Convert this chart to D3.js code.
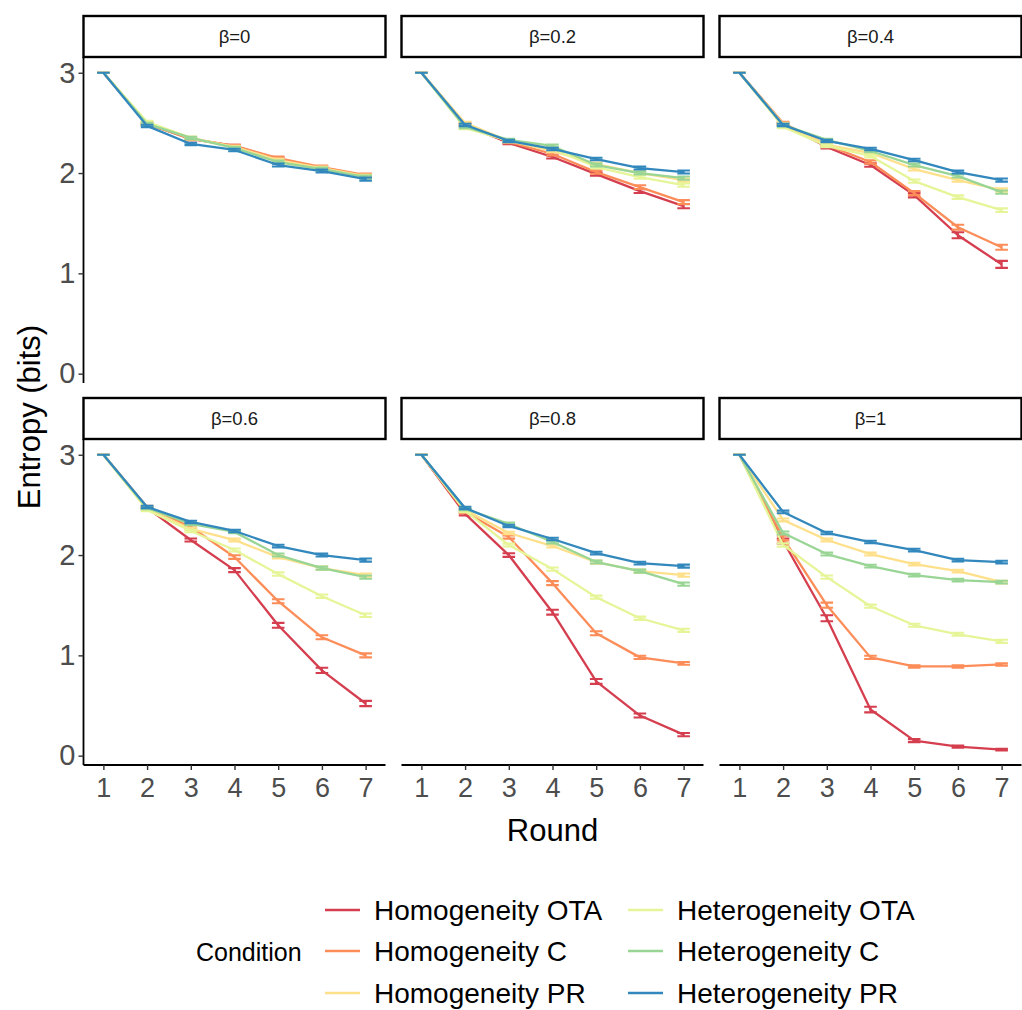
<!DOCTYPE html>
<html>
<head>
<meta charset="utf-8">
<script src="https://cdn.jsdelivr.net/npm/d3@7"></script>
<style>
  body { margin: 0; background: #fff; }
  svg { display: block; font-family: "Liberation Sans", Arial, sans-serif; }
</style>
</head>
<body>
<svg id="chart" width="1022" height="1010"></svg>
<script>
// Rounds on the x axis and the facet labels
const rounds = [1, 2, 3, 4, 5, 6, 7];
const betaLabels = ["β=0", "β=0.2", "β=0.4", "β=0.6", "β=0.8", "β=1"];
const conditions = ["Homogeneity OTA", "Homogeneity C", "Homogeneity PR",
                    "Heterogeneity OTA", "Heterogeneity C", "Heterogeneity PR"];
const conditionColors = ["#D53E4F", "#FC8D59", "#FEE08B", "#E6F598", "#99D594", "#3288BD"];
const yTicks = [0, 1, 2, 3];

// Mean entropy (bits) per round; one row per condition, in the order above
const entropyB0 = [
  [3, 2.49, 2.34, 2.27, 2.14, 2.05, 1.97],
  [3, 2.49, 2.34, 2.27, 2.15, 2.06, 1.98],
  [3, 2.50, 2.35, 2.26, 2.13, 2.05, 1.97],
  [3, 2.51, 2.35, 2.25, 2.11, 2.04, 1.96],
  [3, 2.49, 2.35, 2.25, 2.11, 2.04, 1.96],
  [3, 2.47, 2.29, 2.23, 2.08, 2.02, 1.94]
];
const entropyB02 = [
  [3, 2.48, 2.30, 2.16, 1.99, 1.82, 1.67],
  [3, 2.49, 2.31, 2.19, 2.01, 1.86, 1.71],
  [3, 2.50, 2.32, 2.22, 2.09, 2.00, 1.93],
  [3, 2.45, 2.32, 2.24, 2.06, 1.96, 1.88],
  [3, 2.46, 2.33, 2.27, 2.08, 2.00, 1.95],
  [3, 2.48, 2.32, 2.24, 2.14, 2.05, 2.01]
];
const entropyB04 = [
  [3, 2.49, 2.26, 2.08, 1.78, 1.38, 1.09],
  [3, 2.50, 2.28, 2.11, 1.80, 1.46, 1.26],
  [3, 2.49, 2.28, 2.20, 2.04, 1.93, 1.83],
  [3, 2.46, 2.27, 2.17, 1.92, 1.76, 1.63],
  [3, 2.48, 2.33, 2.22, 2.08, 1.97, 1.81],
  [3, 2.48, 2.32, 2.24, 2.13, 2.01, 1.93]
];
const entropyB06 = [
  [3, 2.47, 2.15, 1.85, 1.30, 0.85, 0.52],
  [3, 2.48, 2.28, 1.98, 1.54, 1.18, 1.00],
  [3, 2.46, 2.26, 2.15, 1.98, 1.87, 1.80],
  [3, 2.45, 2.24, 2.05, 1.81, 1.59, 1.40],
  [3, 2.47, 2.31, 2.23, 2.00, 1.87, 1.78],
  [3, 2.48, 2.33, 2.24, 2.09, 2.00, 1.95]
];
const entropyB08 = [
  [3, 2.41, 2.00, 1.43, 0.74, 0.40, 0.21],
  [3, 2.43, 2.18, 1.72, 1.22, 0.98, 0.92],
  [3, 2.45, 2.22, 2.09, 1.93, 1.84, 1.80],
  [3, 2.44, 2.10, 1.86, 1.58, 1.37, 1.25],
  [3, 2.46, 2.31, 2.13, 1.93, 1.84, 1.71],
  [3, 2.47, 2.29, 2.16, 2.02, 1.92, 1.89]
];
const entropyB1 = [
  [3, 2.14, 1.37, 0.46, 0.15, 0.09, 0.06],
  [3, 2.17, 1.50, 0.98, 0.89, 0.89, 0.91],
  [3, 2.35, 2.15, 2.01, 1.91, 1.84, 1.73],
  [3, 2.10, 1.78, 1.49, 1.30, 1.21, 1.14],
  [3, 2.22, 2.01, 1.89, 1.80, 1.75, 1.73],
  [3, 2.43, 2.22, 2.13, 2.05, 1.95, 1.93]
];

// Standard errors, same layout as the means
const seB0 = [
  [0, 0.012, 0.012, 0.012, 0.014, 0.014, 0.015],
  [0, 0.012, 0.012, 0.012, 0.014, 0.014, 0.015],
  [0, 0.012, 0.012, 0.012, 0.014, 0.014, 0.015],
  [0, 0.012, 0.012, 0.012, 0.014, 0.014, 0.015],
  [0, 0.012, 0.012, 0.012, 0.014, 0.014, 0.015],
  [0, 0.012, 0.012, 0.012, 0.014, 0.014, 0.015]
];
const seB02 = [
  [0, 0.012, 0.013, 0.015, 0.017, 0.019, 0.021],
  [0, 0.012, 0.013, 0.015, 0.017, 0.019, 0.020],
  [0, 0.012, 0.012, 0.013, 0.014, 0.015, 0.016],
  [0, 0.012, 0.012, 0.013, 0.015, 0.016, 0.017],
  [0, 0.012, 0.012, 0.013, 0.014, 0.015, 0.016],
  [0, 0.012, 0.012, 0.012, 0.013, 0.014, 0.015]
];
const seB04 = [
  [0, 0.012, 0.014, 0.017, 0.022, 0.030, 0.035],
  [0, 0.012, 0.014, 0.016, 0.020, 0.024, 0.025],
  [0, 0.012, 0.012, 0.013, 0.015, 0.016, 0.017],
  [0, 0.012, 0.013, 0.014, 0.016, 0.017, 0.018],
  [0, 0.012, 0.012, 0.013, 0.014, 0.015, 0.016],
  [0, 0.012, 0.012, 0.012, 0.013, 0.014, 0.015]
];
const seB06 = [
  [0, 0.012, 0.015, 0.020, 0.024, 0.026, 0.026],
  [0, 0.012, 0.014, 0.018, 0.020, 0.020, 0.020],
  [0, 0.012, 0.012, 0.014, 0.015, 0.016, 0.016],
  [0, 0.012, 0.013, 0.015, 0.017, 0.017, 0.018],
  [0, 0.012, 0.012, 0.013, 0.015, 0.015, 0.016],
  [0, 0.012, 0.012, 0.012, 0.013, 0.014, 0.015]
];
const seB08 = [
  [0, 0.014, 0.018, 0.024, 0.024, 0.020, 0.016],
  [0, 0.013, 0.016, 0.020, 0.020, 0.016, 0.014],
  [0, 0.012, 0.013, 0.014, 0.015, 0.015, 0.016],
  [0, 0.013, 0.014, 0.016, 0.016, 0.016, 0.016],
  [0, 0.012, 0.013, 0.014, 0.014, 0.015, 0.016],
  [0, 0.012, 0.012, 0.013, 0.013, 0.014, 0.015]
];
const seB1 = [
  [0, 0.025, 0.030, 0.028, 0.015, 0.010, 0.008],
  [0, 0.024, 0.026, 0.016, 0.012, 0.012, 0.012],
  [0, 0.014, 0.014, 0.014, 0.014, 0.014, 0.014],
  [0, 0.016, 0.016, 0.016, 0.015, 0.015, 0.015],
  [0, 0.015, 0.014, 0.014, 0.014, 0.014, 0.014],
  [0, 0.013, 0.013, 0.013, 0.013, 0.013, 0.013]
];

const panelMeans = [entropyB0, entropyB02, entropyB04, entropyB06, entropyB08, entropyB1];
const panelErrors = [seB0, seB02, seB04, seB06, seB08, seB1];

// ---- layout ----
const svg = d3.select("#chart");
svg.append("rect").attr("width", 1022).attr("height", 1010).attr("fill", "#fff");

const colX = [83.5, 401.5, 719.5];
const panelW = 302;
const stripTop = [16, 398];
const stripH = 41;
const panelH = 326;
const tickColor = "#333333";
const tickTextColor = "#4d4d4d";
const lineW = 2.3;

const color = d3.scaleOrdinal().domain(conditions).range(conditionColors);

betaLabels.forEach((label, p) => {
  const col = p % 3, row = Math.floor(p / 3);
  const x0 = colX[col];
  const top = stripTop[row] + stripH;

  const x = d3.scaleLinear().domain([0.545, 7.455]).range([x0, x0 + panelW]);
  const y = d3.scaleLinear().domain([-0.093, 3.157]).range([top + panelH, top]);

  const g = svg.append("g");

  // facet strip
  g.append("rect")
    .attr("x", x0).attr("y", stripTop[row])
    .attr("width", panelW).attr("height", stripH)
    .attr("fill", "#fff").attr("stroke", "#000").attr("stroke-width", 2.4);
  g.append("text")
    .attr("x", x0 + panelW / 2).attr("y", stripTop[row] + stripH / 2)
    .attr("dy", "0.35em").attr("text-anchor", "middle")
    .attr("font-size", 18.5).attr("fill", "#1a1a1a")
    .text(label);

  // y axis on the left column only
  if (col === 0) {
    const ya = g.append("g").attr("transform", `translate(${x0},0)`)
      .call(d3.axisLeft(y).tickValues(yTicks).tickFormat(d3.format("d")).tickSize(5).tickPadding(3));
    ya.select(".domain").attr("stroke", "#000").attr("stroke-width", 1.8)
      .attr("d", `M0,${top}V${top + panelH}`);
    ya.selectAll(".tick line").attr("stroke", tickColor).attr("stroke-width", 1.4);
    ya.selectAll(".tick text").attr("font-size", 29).attr("fill", tickTextColor)
      .attr("font-family", "Liberation Sans, Arial, sans-serif");
  }

  // x axis on the bottom row only
  if (row === 1) {
    const xa = g.append("g").attr("transform", `translate(0,${top + panelH})`)
      .call(d3.axisBottom(x).tickValues(rounds).tickFormat(d3.format("d")).tickSize(5).tickPadding(8));
    xa.select(".domain").attr("stroke", "#000").attr("stroke-width", 1.8)
      .attr("d", `M${x0},0H${x0 + panelW}`);
    xa.selectAll(".tick line").attr("stroke", tickColor).attr("stroke-width", 1.4);
    xa.selectAll(".tick text").attr("font-size", 27).attr("fill", tickTextColor)
      .attr("font-family", "Liberation Sans, Arial, sans-serif");
  }

  const means = panelMeans[p];
  const errs = panelErrors[p];
  const line = d3.line().x((d, i) => x(rounds[i])).y(d => y(d));
  const capHalf = 6.3;

  conditions.forEach((cond, c) => {
    const cg = g.append("g");
    const col = color(cond);
    // error bars
    means[c].forEach((m, i) => {
      const lo = y(m - errs[c][i]), hi = y(m + errs[c][i]);
      const cx = x(rounds[i]);
      cg.append("path")
        .attr("d", `M${cx - capHalf},${hi}H${cx + capHalf}M${cx},${hi}V${lo}M${cx - capHalf},${lo}H${cx + capHalf}`)
        .attr("fill", "none").attr("stroke", col).attr("stroke-width", 2.1);
    });
    cg.append("path").datum(means[c])
      .attr("d", line)
      .attr("fill", "none").attr("stroke", col).attr("stroke-width", lineW)
      .attr("stroke-linejoin", "round");
  });
});

// axis titles
svg.append("text")
  .attr("x", (colX[0] + colX[2] + panelW) / 2).attr("y", 841)
  .attr("text-anchor", "middle").attr("font-size", 31).attr("fill", "#000")
  .text("Round");
svg.append("text")
  .attr("transform", `translate(40,${(57 + 765) / 2 + 6}) rotate(-90)`)
  .attr("text-anchor", "middle").attr("font-size", 31).attr("fill", "#000")
  .text("Entropy (bits)");

// legend
const legend = svg.append("g");
legend.append("text")
  .attr("x", 196).attr("y", 952).attr("dy", "0.35em")
  .attr("font-size", 25).attr("fill", "#000").text("Condition");
const legendRowY = [910, 951, 993];
const legendKeyX = [325, 628];
conditions.forEach((cond, i) => {
  const c = Math.floor(i / 3), r = i % 3;
  legend.append("line")
    .attr("x1", legendKeyX[c]).attr("x2", legendKeyX[c] + 35)
    .attr("y1", legendRowY[r]).attr("y2", legendRowY[r])
    .attr("stroke", color(cond)).attr("stroke-width", lineW);
  legend.append("text")
    .attr("x", legendKeyX[c] + 49).attr("y", legendRowY[r]).attr("dy", "0.35em")
    .attr("font-size", 28).attr("fill", "#000").text(cond);
});
</script>
</body>
</html>
